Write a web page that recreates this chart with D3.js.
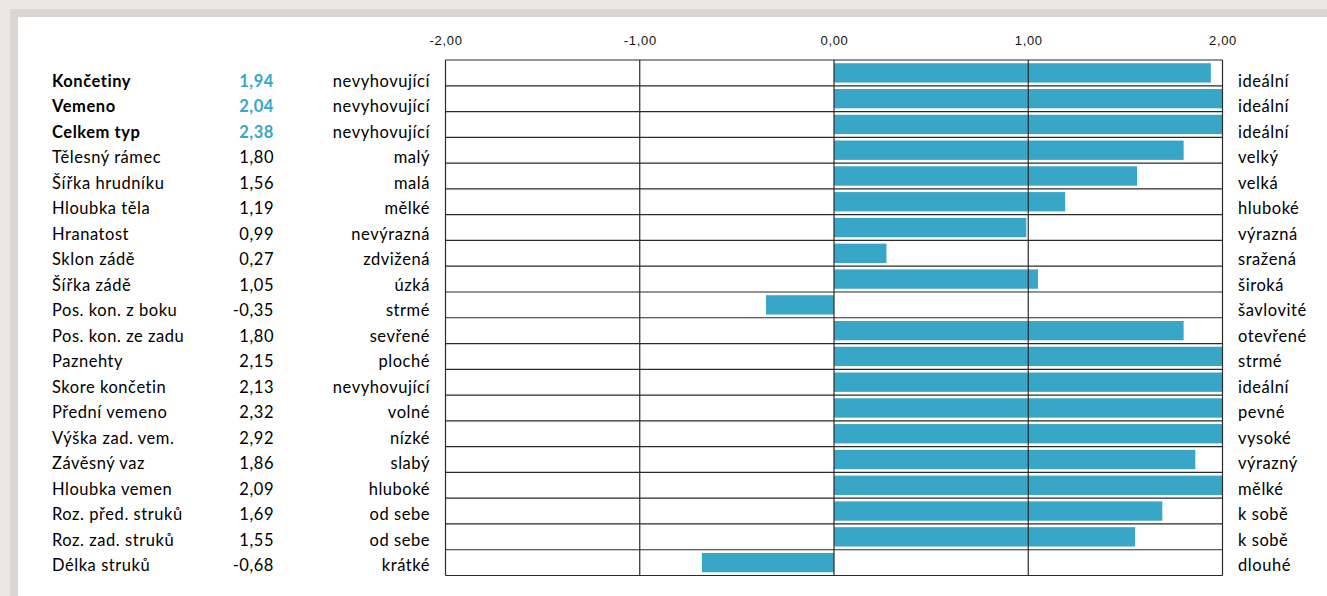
<!DOCTYPE html>
<html lang="cs">
<head>
<meta charset="utf-8">
<script src="https://cdn.jsdelivr.net/npm/d3@7"></script>
<style>
  html, body { margin: 0; padding: 0; background: #ece7e3; }
  svg { display: block; }
</style>
</head>
<body>
<svg id="chart" width="1327" height="596"></svg>
<script>
// Hodnocení exteriéru – názvy vlastností, hodnoty a popisy krajních hodnot
const traits = ["Končetiny", "Vemeno", "Celkem typ", "Tělesný rámec", "Šířka hrudníku",
  "Hloubka těla", "Hranatost", "Sklon zádě", "Šířka zádě", "Pos. kon. z boku",
  "Pos. kon. ze zadu", "Paznehty", "Skore končetin", "Přední vemeno", "Výška zad. vem.",
  "Závěsný vaz", "Hloubka vemen", "Roz. před. struků", "Roz. zad. struků", "Délka struků"];
const values = [1.94, 2.04, 2.38, 1.80, 1.56, 1.19, 0.99, 0.27, 1.05, -0.35,
  1.80, 2.15, 2.13, 2.32, 2.92, 1.86, 2.09, 1.69, 1.55, -0.68];
const lowLabels = ["nevyhovující", "nevyhovující", "nevyhovující", "malý", "malá",
  "mělké", "nevýrazná", "zdvižená", "úzká", "strmé", "sevřené", "ploché",
  "nevyhovující", "volné", "nízké", "slabý", "hluboké", "od sebe", "od sebe", "krátké"];
const highLabels = ["ideální", "ideální", "ideální", "velký", "velká", "hluboké",
  "výrazná", "sražená", "široká", "šavlovité", "otevřené", "strmé", "ideální",
  "pevné", "vysoké", "výrazný", "mělké", "k sobě", "k sobě", "dlouhé"];
const summaryCount = 3;           // první tři řádky jsou souhrnné (tučně)
const tickValues = [-2, -1, 0, 1, 2];

const svg = d3.select("#chart");
const W = 1327, H = 596;
const blue = "#38a6c6";
const labelFont = "Lato, 'Open Sans', sans-serif";

// český formát čísel: desetinná čárka, obyčejný spojovník jako minus
const locale = d3.formatLocale({ decimal: ",", thousands: " ", grouping: [3], currency: ["", " Kč"], minus: "-" });
const fmt = locale.format(".2f");

// rámeček pozadí
svg.append("rect").attr("x", 0).attr("y", 0).attr("width", W).attr("height", H).attr("fill", "#ece7e3");
svg.append("rect").attr("x", 10).attr("y", 9).attr("width", W - 10).attr("height", H - 9).attr("fill", "#ddd5cf");
svg.append("rect").attr("x", 18).attr("y", 17).attr("width", W - 18).attr("height", H - 17).attr("fill", "#ffffff");

const plot = { left: 445.5, right: 1222.5, top: 60, bottom: 575.5 };

const x = d3.scaleLinear().domain([-2, 2]).range([plot.left, plot.right]);
const y = d3.scaleBand().domain(d3.range(traits.length)).range([plot.top, plot.bottom]).padding(0);

// sloupce (hodnoty nad 2 jsou oříznuty na okraj osy)
const clampX = v => x(Math.max(-2, Math.min(2, v)));
const barPad = y.bandwidth() * 0.125;
svg.append("g").selectAll("rect").data(values).join("rect")
  .attr("x", d => Math.min(clampX(0), clampX(d)))
  .attr("width", d => Math.abs(clampX(d) - clampX(0)))
  .attr("y", (d, i) => y(i) + barPad)
  .attr("height", y.bandwidth() - 2 * barPad)
  .attr("fill", blue);

// vodorovné čáry mezi řádky
const grid = svg.append("g").attr("stroke", "#2b2b2b").attr("stroke-width", 1.2).attr("fill", "none");
grid.selectAll("line.h").data(d3.range(traits.length + 1)).join("line")
  .attr("class", "h")
  .attr("x1", plot.left).attr("x2", plot.right)
  .attr("y1", i => plot.top + i * y.step())
  .attr("y2", i => plot.top + i * y.step());
// svislé čáry mřížky
grid.selectAll("line.v").data(tickValues).join("line")
  .attr("class", "v")
  .attr("x1", d => x(d)).attr("x2", d => x(d))
  .attr("y1", plot.top).attr("y2", plot.bottom);

// horní osa s popisky
const axis = d3.axisTop(x).tickValues(tickValues).tickSize(0).tickFormat(fmt);
const ag = svg.append("g").attr("transform", `translate(0,${plot.top - 12})`).call(axis);
ag.select(".domain").remove();
ag.attr("font-family", "'Liberation Sans', Arial, sans-serif").attr("font-size", 13)
  .attr("letter-spacing", "0.7px");
ag.selectAll("text").attr("fill", "#111").attr("dy", "0");

// textové sloupce vlevo a vpravo
const rowY = d3.scaleLinear().domain([0, traits.length - 1]).range([87, 571]);
const txt = svg.append("g").attr("font-family", labelFont).attr("font-size", 16.5)
  .attr("letter-spacing", "0.55px").attr("fill", "#000");

txt.selectAll("text.name").data(traits).join("text")
  .attr("class", "name")
  .attr("x", 52).attr("y", (d, i) => rowY(i))
  .attr("font-weight", (d, i) => i < summaryCount ? 700 : 400)
  .text(d => d);

txt.selectAll("text.val").data(values).join("text")
  .attr("class", "val")
  .attr("x", 274).attr("y", (d, i) => rowY(i))
  .attr("text-anchor", "end")
  .attr("font-weight", (d, i) => i < summaryCount ? 700 : 400)
  .attr("fill", (d, i) => i < summaryCount ? blue : "#000")
  .text(fmt);

txt.selectAll("text.low").data(lowLabels).join("text")
  .attr("class", "low")
  .attr("x", 430).attr("y", (d, i) => rowY(i))
  .attr("text-anchor", "end")
  .text(d => d);

txt.selectAll("text.high").data(highLabels).join("text")
  .attr("class", "high")
  .attr("x", 1238).attr("y", (d, i) => rowY(i))
  .text(d => d);
</script>
</body>
</html>
